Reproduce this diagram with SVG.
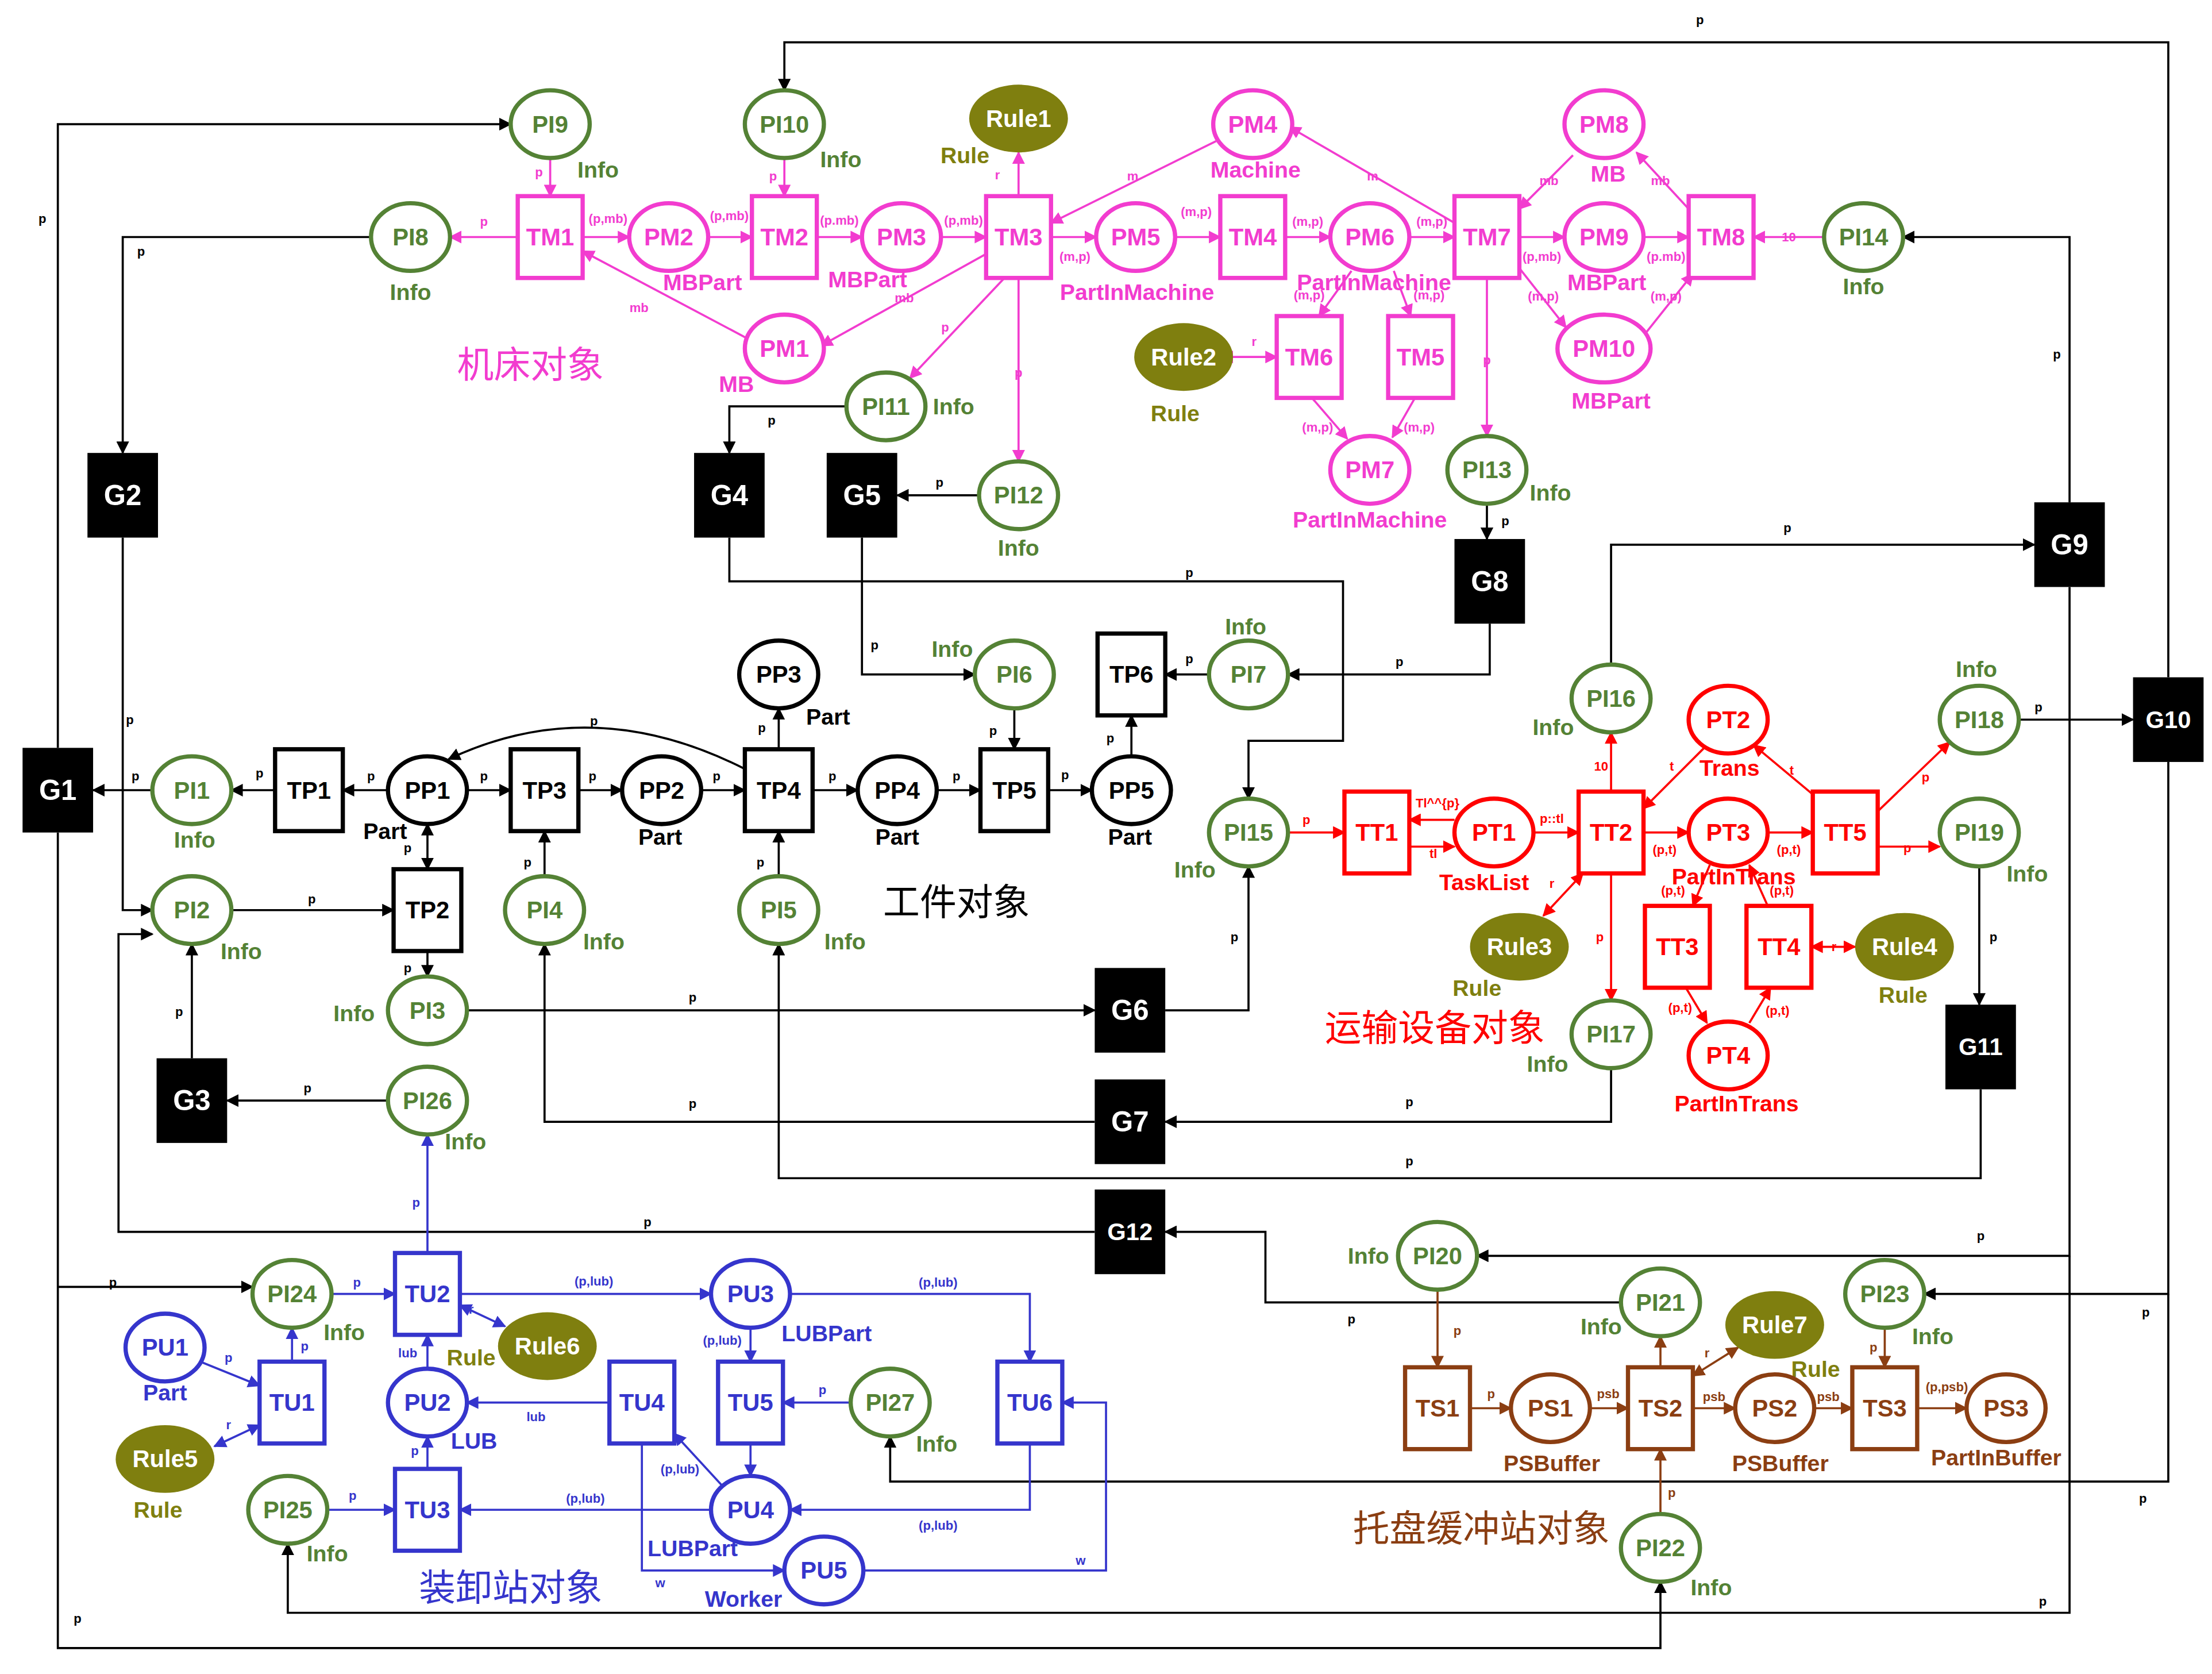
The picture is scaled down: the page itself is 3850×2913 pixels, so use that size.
<svg xmlns="http://www.w3.org/2000/svg" width="3850" height="2913" viewBox="0 0 3850 2913">
<style>
text{font-family:"Liberation Sans",Arial,sans-serif;font-weight:bold;text-anchor:middle;dominant-baseline:central}
.n{font-size:17px}.s{font-size:16px}.e{font-size:9px}.cn{font-size:26px;font-family:"Noto Sans CJK SC",sans-serif;font-weight:normal}
.gi ellipse{fill:#fff;stroke:#548235;stroke-width:3}.gi text,.tg{fill:#548235}
.mg rect,.mg ellipse{fill:#fff;stroke:#f23ccf;stroke-width:3}.mg text,.tm{fill:#f23ccf}
.rd rect,.rd ellipse{fill:#fff;stroke:#f00;stroke-width:3}.rd text,.tr{fill:#f00}
.bl rect,.bl ellipse{fill:#fff;stroke:#3535cc;stroke-width:3}.bl text,.tb{fill:#3535cc}
.br rect,.br ellipse{fill:#fff;stroke:#8b3e12;stroke-width:3}.br text,.tbr{fill:#8b3e12}
.bk rect,.bk ellipse{fill:#fff;stroke:#000;stroke-width:3}.bk text{fill:#000}
.gb rect{fill:#000}.gb text{fill:#fff;font-size:20px}
.ru ellipse{fill:#7f7f0f}.ru text{fill:#fff}.to{fill:#7f7f0f}
#edges path{fill:none;stroke-width:1.5}
.ck{stroke:#000;marker-end:url(#ak)}.cm{stroke:#f23ccf;marker-end:url(#am)}.cr{stroke:#f00;marker-end:url(#ar)}.cb{stroke:#3535cc;marker-end:url(#ab)}.cbr{stroke:#8b3e12;marker-end:url(#abr)}
.bi{}
</style>
<defs>
<marker id="ak" viewBox="0 0 10 10" refX="9" refY="5" markerWidth="6" markerHeight="6" orient="auto-start-reverse"><path d="M0,0L10,5L0,10z" fill="#000"/></marker>
<marker id="am" viewBox="0 0 10 10" refX="9" refY="5" markerWidth="6" markerHeight="6" orient="auto-start-reverse"><path d="M0,0L10,5L0,10z" fill="#f23ccf"/></marker>
<marker id="ar" viewBox="0 0 10 10" refX="9" refY="5" markerWidth="6" markerHeight="6" orient="auto-start-reverse"><path d="M0,0L10,5L0,10z" fill="#f00"/></marker>
<marker id="ab" viewBox="0 0 10 10" refX="9" refY="5" markerWidth="6" markerHeight="6" orient="auto-start-reverse"><path d="M0,0L10,5L0,10z" fill="#3535cc"/></marker>
<marker id="abr" viewBox="0 0 10 10" refX="9" refY="5" markerWidth="6" markerHeight="6" orient="auto-start-reverse"><path d="M0,0L10,5L0,10z" fill="#8b3e12"/></marker>
</defs>
<rect width="3850" height="2913" fill="#fff"/>
<g transform="scale(2.4554)">
<g id="edges">
<!-- magenta -->
<path class="cm" d="M390,112V139"/><path class="cm" d="M556,112V139"/>
<path class="cm" d="M367,168H319"/><path class="cm" d="M413,168H446"/><path class="cm" d="M502,168H533"/>
<path class="cm" d="M579,168H611"/><path class="cm" d="M667,168H699"/><path class="cm" d="M722,139V108"/>
<path class="cm" d="M745,168H777"/><path class="cm" d="M833,168H865"/><path class="cm" d="M911,168H943"/><path class="cm" d="M999,168H1031"/>
<path class="cm" d="M862,100L745,158"/><path class="cm" d="M1031,158L914,90"/>
<path class="cm" d="M530,240L413,178"/><path class="cm" d="M699,180L582,245"/>
<path class="cm" d="M712,197L645,268"/><path class="cm" d="M722,197V327"/>
<path class="cm" d="M1077,168H1109"/><path class="cm" d="M1165,168H1197"/><path class="cm" d="M1293,168H1243"/>
<path class="cm" d="M1115,110L1077,148"/><path class="cm" d="M1197,148L1160,108"/>
<path class="cm" d="M1077,190L1110,232"/><path class="cm" d="M1165,238L1200,194"/>
<path class="cm" d="M1054,197V309"/>
<path class="cm" d="M958,192L935,224"/><path class="cm" d="M988,192L1000,224"/>
<path class="cm" d="M930,282L955,311"/><path class="cm" d="M1003,282L987,310"/>
<path class="cm" style="marker-start:url(#am)" d="M905,253H866"/>
<!-- black -->
<path class="ck" d="M263,168H87V321"/><path class="ck" d="M87,381V645H108"/>
<path class="ck" d="M600,288H517V321"/><path class="ck" d="M694,351H636"/>
<path class="ck" d="M517,381V412H952V525H885V566"/><path class="ck" d="M611,381V478H691"/>
<path class="ck" d="M719,502V531"/><path class="ck" d="M743,560H774"/><path class="ck" d="M802,536V507"/>
<path class="ck" d="M857,478H826"/><path class="ck" d="M1056,442V478H913"/><path class="ck" d="M1054,357V382"/>
<path class="ck" d="M195,560H164"/><path class="ck" d="M108,560H66"/><path class="ck" d="M275,560H243"/>
<path class="ck" d="M331,560H362"/><path class="ck" d="M410,560H441"/><path class="ck" d="M497,560H528"/>
<path class="ck" d="M576,560H608"/><path class="ck" d="M664,560H695"/><path class="ck" d="M552,531V502"/>
<path class="ck" d="M528,545Q420,490 318,538"/><path class="ck" style="marker-start:url(#ak)" d="M303,584V616"/>
<path class="ck" d="M303,674V692"/><path class="ck" d="M164,645H279"/><path class="ck" d="M386,621V589"/><path class="ck" d="M552,621V589"/>
<path class="ck" d="M331,716H776"/><path class="ck" d="M826,716H885V614"/>
<path class="ck" d="M1142,757V795H826"/><path class="ck" d="M776,795H386V669"/>
<path class="ck" d="M1404,772V835H552V669"/><path class="ck" d="M1403,614V712"/>
<path class="ck" d="M1142,471V386H1442"/><path class="ck" d="M136,750V669"/><path class="ck" d="M275,780H161"/>
<path class="ck" d="M1467,356V168H1349"/><path class="ck" d="M1467,416V890H1047"/>
<path class="ck" d="M1431,510H1512"/><path class="ck" d="M1537,480V30H556V64"/>
<path class="ck" d="M1537,540V917H1364"/><path class="ck" d="M41,530V88H362"/>
<path class="ck" d="M41,590V1168H1177V1121"/><path class="ck" d="M41,912H179"/>
<path class="ck" d="M1537,917V1050H631V1018"/><path class="ck" d="M1467,890V1143H204V1094"/>
<path class="ck" d="M1149,923H897V873H826"/><path class="ck" d="M776,873H84V662H108"/>
<!-- red -->
<path class="cr" d="M913,590H953"/><path class="cr" d="M1031,581H999"/><path class="cr" d="M999,600H1031"/>
<path class="cr" d="M1087,590H1119"/><path class="cr" d="M1165,590H1197"/><path class="cr" d="M1253,590H1285"/>
<path class="cr" d="M1331,600H1375"/><path class="cr" d="M1331,575L1382,526"/>
<path class="cr" d="M1208,530L1165,573"/><path class="cr" d="M1285,563L1243,528"/>
<path class="cr" d="M1142,561V519"/><path class="cr" d="M1142,619V709"/>
<path class="cr" style="marker-start:url(#ar)" d="M1122,619L1094,649"/>
<path class="cr" d="M1212,613L1200,642"/><path class="cr" d="M1253,642L1240,613"/>
<path class="cr" d="M1195,700L1210,725"/><path class="cr" d="M1240,725L1255,700"/>
<path class="cr" style="marker-start:url(#ar)" d="M1284,671H1315"/>
<!-- blue -->
<path class="cb" d="M303,888V804"/><path class="cb" d="M235,917H280"/><path class="cb" d="M207,965V941"/>
<path class="cb" d="M142,965L184,982"/><path class="cb" style="marker-start:url(#ab)" d="M152,1025L184,1010"/>
<path class="cb" d="M326,917H504"/><path class="cb" d="M560,917H730V965"/><path class="cb" d="M532,941V965"/>
<path class="cb" style="marker-start:url(#ab)" d="M326,925L358,940"/><path class="cb" d="M303,970V946"/>
<path class="cb" d="M432,994H331"/><path class="cb" d="M532,1023V1046"/><path class="cb" d="M603,994H555"/>
<path class="cb" d="M512,1053L478,1016"/><path class="cb" d="M730,1023V1070H560"/><path class="cb" d="M504,1070H326"/>
<path class="cb" d="M303,1041V1018"/><path class="cb" d="M232,1070H280"/>
<path class="cb" d="M612,1113H784V994H753"/><path class="cb" d="M455,1023V1113H556"/>
<!-- brown -->
<path class="cbr" d="M1019,914V969"/><path class="cbr" d="M1042,998H1071"/><path class="cbr" d="M1127,998H1154"/>
<path class="cbr" d="M1200,998H1230"/><path class="cbr" d="M1286,998H1313"/><path class="cbr" d="M1359,998H1394"/>
<path class="cbr" d="M1336,941V969"/><path class="cbr" d="M1177,969V947"/>
<path class="cbr" style="marker-start:url(#abr)" d="M1200,975L1232,955"/><path class="cbr" d="M1177,1073V1027"/>
</g>
<g id="edge-labels" class="e">
<g class="tm"><text x="382" y="122">p</text><text x="548" y="125">p</text><text x="343" y="157">p</text><text x="431" y="155">(p,mb)</text><text x="517" y="153">(p,mb)</text><text x="595" y="156">(p.mb)</text><text x="683" y="156">(p,mb)</text><text x="707" y="124">r</text><text x="762" y="182">(m,p)</text><text x="848" y="150">(m,p)</text><text x="927" y="157">(m,p)</text><text x="1015" y="157">(m,p)</text><text x="803" y="125">m</text><text x="973" y="125">m</text><text x="453" y="218">mb</text><text x="641" y="211">mb</text><text x="670" y="232">p</text><text x="722" y="264">p</text><text x="1093" y="182">(p,mb)</text><text x="1181" y="182">(p.mb)</text><text x="1268" y="168">10</text><text x="1098" y="128">mb</text><text x="1177" y="128">mb</text><text x="1094" y="210">(m,p)</text><text x="1181" y="210">(m,p)</text><text x="1054" y="255">p</text><text x="928" y="209">(m,p)</text><text x="1013" y="209">(m,p)</text><text x="934" y="303">(m,p)</text><text x="1006" y="303">(m,p)</text><text x="889" y="242">r</text></g>
<g fill="#000"><text x="100" y="178">p</text><text x="92" y="510">p</text><text x="547" y="298">p</text><text x="666" y="342">p</text><text x="843" y="406">p</text><text x="620" y="457">p</text><text x="704" y="518">p</text><text x="755" y="549">p</text><text x="787" y="523">p</text><text x="843" y="467">p</text><text x="992" y="469">p</text><text x="1067" y="369">p</text><text x="184" y="548">p</text><text x="96" y="550">p</text><text x="263" y="550">p</text><text x="343" y="550">p</text><text x="420" y="550">p</text><text x="508" y="550">p</text><text x="590" y="550">p</text><text x="678" y="550">p</text><text x="540" y="516">p</text><text x="421" y="511">p</text><text x="289" y="601">p</text><text x="289" y="686">p</text><text x="221" y="637">p</text><text x="374" y="611">p</text><text x="539" y="611">p</text><text x="491" y="707">p</text><text x="875" y="664">p</text><text x="999" y="781">p</text><text x="491" y="782">p</text><text x="999" y="823">p</text><text x="1413" y="664">p</text><text x="1267" y="374">p</text><text x="127" y="717">p</text><text x="218" y="771">p</text><text x="1458" y="251">p</text><text x="1404" y="876">p</text><text x="1445" y="501">p</text><text x="1205" y="14">p</text><text x="1521" y="930">p</text><text x="30" y="155">p</text><text x="55" y="1147">p</text><text x="80" y="909">p</text><text x="1519" y="1062">p</text><text x="1448" y="1135">p</text><text x="958" y="935">p</text><text x="459" y="866">p</text></g>
<g class="tr"><text x="926" y="581">p</text><text x="1019" y="569">Tl^^{p}</text><text x="1016" y="605">tl</text><text x="1100" y="580">p::tl</text><text x="1180" y="602">(p,t)</text><text x="1268" y="602">(p,t)</text><text x="1352" y="601">p</text><text x="1365" y="551">p</text><text x="1185" y="543">t</text><text x="1270" y="546">t</text><text x="1135" y="543">10</text><text x="1134" y="664">p</text><text x="1100" y="626">r</text><text x="1186" y="631">(p,t)</text><text x="1263" y="631">(p,t)</text><text x="1191" y="714">(p,t)</text><text x="1260" y="716">(p,t)</text><text x="1300" y="671">r</text></g>
<g class="tb"><text x="295" y="852">p</text><text x="253" y="909">p</text><text x="216" y="954">p</text><text x="162" y="962">p</text><text x="162" y="1010">r</text><text x="421" y="908">(p,lub)</text><text x="665" y="909">(p,lub)</text><text x="512" y="950">(p,lub)</text><text x="334" y="928">r</text><text x="289" y="959">lub</text><text x="380" y="1004">lub</text><text x="583" y="985">p</text><text x="482" y="1041">(p,lub)</text><text x="665" y="1081">(p,lub)</text><text x="415" y="1062">(p,lub)</text><text x="294" y="1028">p</text><text x="250" y="1060">p</text><text x="766" y="1106">w</text><text x="468" y="1122">w</text></g>
<g class="tbr"><text x="1033" y="943">p</text><text x="1057" y="988">p</text><text x="1140" y="988">psb</text><text x="1215" y="990">psb</text><text x="1296" y="990">psb</text><text x="1380" y="983">(p,psb)</text><text x="1328" y="955">p</text><text x="1210" y="959">r</text><text x="1185" y="1058">p</text></g>
</g>
<!-- green info places -->
<g class="gi n">
<g id="PI1"><ellipse cx="136" cy="560" rx="28" ry="24"/><text x="136" y="560">PI1</text></g>
<g id="PI2"><ellipse cx="136" cy="645" rx="28" ry="24"/><text x="136" y="645">PI2</text></g>
<g id="PI3"><ellipse cx="303" cy="716" rx="28" ry="24"/><text x="303" y="716">PI3</text></g>
<g id="PI4"><ellipse cx="386" cy="645" rx="28" ry="24"/><text x="386" y="645">PI4</text></g>
<g id="PI5"><ellipse cx="552" cy="645" rx="28" ry="24"/><text x="552" y="645">PI5</text></g>
<g id="PI6"><ellipse cx="719" cy="478" rx="28" ry="24"/><text x="719" y="478">PI6</text></g>
<g id="PI7"><ellipse cx="885" cy="478" rx="28" ry="24"/><text x="885" y="478">PI7</text></g>
<g id="PI8"><ellipse cx="291" cy="168" rx="28" ry="24"/><text x="291" y="168">PI8</text></g>
<g id="PI9"><ellipse cx="390" cy="88" rx="28" ry="24"/><text x="390" y="88">PI9</text></g>
<g id="PI10"><ellipse cx="556" cy="88" rx="28" ry="24"/><text x="556" y="88">PI10</text></g>
<g id="PI11"><ellipse cx="628" cy="288" rx="28" ry="24"/><text x="628" y="288">PI11</text></g>
<g id="PI12"><ellipse cx="722" cy="351" rx="28" ry="24"/><text x="722" y="351">PI12</text></g>
<g id="PI13"><ellipse cx="1054" cy="333" rx="28" ry="24"/><text x="1054" y="333">PI13</text></g>
<g id="PI14"><ellipse cx="1321" cy="168" rx="28" ry="24"/><text x="1321" y="168">PI14</text></g>
<g id="PI15"><ellipse cx="885" cy="590" rx="28" ry="24"/><text x="885" y="590">PI15</text></g>
<g id="PI16"><ellipse cx="1142" cy="495" rx="28" ry="24"/><text x="1142" y="495">PI16</text></g>
<g id="PI17"><ellipse cx="1142" cy="733" rx="28" ry="24"/><text x="1142" y="733">PI17</text></g>
<g id="PI18"><ellipse cx="1403" cy="510" rx="28" ry="24"/><text x="1403" y="510">PI18</text></g>
<g id="PI19"><ellipse cx="1403" cy="590" rx="28" ry="24"/><text x="1403" y="590">PI19</text></g>
<g id="PI20"><ellipse cx="1019" cy="890" rx="28" ry="24"/><text x="1019" y="890">PI20</text></g>
<g id="PI21"><ellipse cx="1177" cy="923" rx="28" ry="24"/><text x="1177" y="923">PI21</text></g>
<g id="PI22"><ellipse cx="1177" cy="1097" rx="28" ry="24"/><text x="1177" y="1097">PI22</text></g>
<g id="PI23"><ellipse cx="1336" cy="917" rx="28" ry="24"/><text x="1336" y="917">PI23</text></g>
<g id="PI24"><ellipse cx="207" cy="917" rx="28" ry="24"/><text x="207" y="917">PI24</text></g>
<g id="PI25"><ellipse cx="204" cy="1070" rx="28" ry="24"/><text x="204" y="1070">PI25</text></g>
<g id="PI26"><ellipse cx="303" cy="780" rx="28" ry="24"/><text x="303" y="780">PI26</text></g>
<g id="PI27"><ellipse cx="631" cy="994" rx="28" ry="24"/><text x="631" y="994">PI27</text></g>
</g>
<g class="s tg">
<text x="138" y="595">Info</text><text x="171" y="674">Info</text><text x="251" y="718">Info</text><text x="428" y="667">Info</text><text x="599" y="667">Info</text><text x="675" y="460">Info</text><text x="883" y="444">Info</text><text x="291" y="207">Info</text><text x="424" y="120">Info</text><text x="596" y="113">Info</text><text x="676" y="288">Info</text><text x="722" y="388">Info</text><text x="1099" y="349">Info</text><text x="1321" y="203">Info</text><text x="847" y="616">Info</text><text x="1101" y="515">Info</text><text x="1097" y="754">Info</text><text x="1401" y="474">Info</text><text x="1437" y="619">Info</text><text x="970" y="890">Info</text><text x="1135" y="940">Info</text><text x="1213" y="1125">Info</text><text x="1370" y="947">Info</text><text x="244" y="944">Info</text><text x="232" y="1101">Info</text><text x="330" y="809">Info</text><text x="664" y="1023">Info</text>
</g>
<!-- rules -->
<g class="ru n">
<g id="Rule1"><ellipse cx="722" cy="84" rx="35" ry="24"/><text x="722" y="84">Rule1</text></g>
<g id="Rule2"><ellipse cx="839" cy="253" rx="35" ry="24"/><text x="839" y="253">Rule2</text></g>
<g id="Rule3"><ellipse cx="1077" cy="671" rx="35" ry="24"/><text x="1077" y="671">Rule3</text></g>
<g id="Rule4"><ellipse cx="1350" cy="671" rx="35" ry="24"/><text x="1350" y="671">Rule4</text></g>
<g id="Rule5"><ellipse cx="117" cy="1034" rx="35" ry="24"/><text x="117" y="1034">Rule5</text></g>
<g id="Rule6"><ellipse cx="388" cy="954" rx="35" ry="24"/><text x="388" y="954">Rule6</text></g>
<g id="Rule7"><ellipse cx="1258" cy="939" rx="35" ry="24"/><text x="1258" y="939">Rule7</text></g>
</g>
<g class="s to"><text x="684" y="110">Rule</text><text x="833" y="293">Rule</text><text x="1047" y="700">Rule</text><text x="1349" y="705">Rule</text><text x="112" y="1070">Rule</text><text x="334" y="962">Rule</text><text x="1287" y="970">Rule</text></g>
<!-- magenta nodes -->
<g class="mg n">
<g id="TM1"><rect x="367" y="139" width="46" height="58"/><text x="390" y="168">TM1</text></g>
<g id="TM2"><rect x="533" y="139" width="46" height="58"/><text x="556" y="168">TM2</text></g>
<g id="TM3"><rect x="699" y="139" width="46" height="58"/><text x="722" y="168">TM3</text></g>
<g id="TM4"><rect x="865" y="139" width="46" height="58"/><text x="888" y="168">TM4</text></g>
<g id="TM7"><rect x="1031" y="139" width="46" height="58"/><text x="1054" y="168">TM7</text></g>
<g id="TM8"><rect x="1197" y="139" width="46" height="58"/><text x="1220" y="168">TM8</text></g>
<g id="TM6"><rect x="905" y="224" width="46" height="58"/><text x="928" y="253">TM6</text></g>
<g id="TM5"><rect x="984" y="224" width="46" height="58"/><text x="1007" y="253">TM5</text></g>
<g id="PM1"><ellipse cx="556" cy="247" rx="28" ry="24"/><text x="556" y="247">PM1</text></g>
<g id="PM2"><ellipse cx="474" cy="168" rx="28" ry="24"/><text x="474" y="168">PM2</text></g>
<g id="PM3"><ellipse cx="639" cy="168" rx="28" ry="24"/><text x="639" y="168">PM3</text></g>
<g id="PM4"><ellipse cx="888" cy="88" rx="28" ry="24"/><text x="888" y="88">PM4</text></g>
<g id="PM5"><ellipse cx="805" cy="168" rx="28" ry="24"/><text x="805" y="168">PM5</text></g>
<g id="PM6"><ellipse cx="971" cy="168" rx="28" ry="24"/><text x="971" y="168">PM6</text></g>
<g id="PM7"><ellipse cx="971" cy="333" rx="28" ry="24"/><text x="971" y="333">PM7</text></g>
<g id="PM8"><ellipse cx="1137" cy="88" rx="28" ry="24"/><text x="1137" y="88">PM8</text></g>
<g id="PM9"><ellipse cx="1137" cy="168" rx="28" ry="24"/><text x="1137" y="168">PM9</text></g>
<g id="PM10"><ellipse cx="1137" cy="247" rx="33" ry="24"/><text x="1137" y="247">PM10</text></g>
</g>
<g class="s tm"><text x="890" y="120">Machine</text><text x="1140" y="123">MB</text><text x="522" y="272">MB</text><text x="498" y="200">MBPart</text><text x="615" y="198">MBPart</text><text x="806" y="207">PartInMachine</text><text x="974" y="200">PartInMachine</text><text x="1139" y="200">MBPart</text><text x="1142" y="284">MBPart</text><text x="971" y="368">PartInMachine</text><text class="cn" x="376" y="256">机床对象</text></g>
<!-- black part nodes -->
<g class="bk n">
<g id="TP1"><rect x="195" y="531" width="48" height="58"/><text x="219" y="560">TP1</text></g>
<g id="TP2"><rect x="279" y="616" width="48" height="58"/><text x="303" y="645">TP2</text></g>
<g id="TP3"><rect x="362" y="531" width="48" height="58"/><text x="386" y="560">TP3</text></g>
<g id="TP4"><rect x="528" y="531" width="48" height="58"/><text x="552" y="560">TP4</text></g>
<g id="TP5"><rect x="695" y="531" width="48" height="58"/><text x="719" y="560">TP5</text></g>
<g id="TP6"><rect x="778" y="449" width="48" height="58"/><text x="802" y="478">TP6</text></g>
<g id="PP1"><ellipse cx="303" cy="560" rx="28" ry="24"/><text x="303" y="560">PP1</text></g>
<g id="PP2"><ellipse cx="469" cy="560" rx="28" ry="24"/><text x="469" y="560">PP2</text></g>
<g id="PP3"><ellipse cx="552" cy="478" rx="28" ry="24"/><text x="552" y="478">PP3</text></g>
<g id="PP4"><ellipse cx="636" cy="560" rx="28" ry="24"/><text x="636" y="560">PP4</text></g>
<g id="PP5"><ellipse cx="802" cy="560" rx="28" ry="24"/><text x="802" y="560">PP5</text></g>
</g>
<g class="s" fill="#000"><text x="273" y="589">Part</text><text x="468" y="593">Part</text><text x="587" y="508">Part</text><text x="636" y="593">Part</text><text x="801" y="593">Part</text><text class="cn" x="678" y="637">工件对象</text></g>
<!-- G boxes -->
<g class="gb">
<g id="G1"><rect x="16" y="530" width="50" height="60"/><text x="41" y="560">G1</text></g>
<g id="G2"><rect x="62" y="321" width="50" height="60"/><text x="87" y="351">G2</text></g>
<g id="G3"><rect x="111" y="750" width="50" height="60"/><text x="136" y="780">G3</text></g>
<g id="G4"><rect x="492" y="321" width="50" height="60"/><text x="517" y="351">G4</text></g>
<g id="G5"><rect x="586" y="321" width="50" height="60"/><text x="611" y="351">G5</text></g>
<g id="G6"><rect x="776" y="686" width="50" height="60"/><text x="801" y="716">G6</text></g>
<g id="G7"><rect x="776" y="765" width="50" height="60"/><text x="801" y="795">G7</text></g>
<g id="G8"><rect x="1031" y="382" width="50" height="60"/><text x="1056" y="412">G8</text></g>
<g id="G9"><rect x="1442" y="356" width="50" height="60"/><text x="1467" y="386">G9</text></g>
<g id="G10"><rect x="1512" y="480" width="50" height="60"/><text x="1537" y="510" style="font-size:17px">G10</text></g>
<g id="G11"><rect x="1379" y="712" width="50" height="60"/><text x="1404" y="742" style="font-size:17px">G11</text></g>
<g id="G12"><rect x="776" y="843" width="50" height="60"/><text x="801" y="873" style="font-size:17px">G12</text></g>
</g>
<!-- red -->
<g class="rd n">
<g id="TT1"><rect x="953" y="561" width="46" height="58"/><text x="976" y="590">TT1</text></g>
<g id="TT2"><rect x="1119" y="561" width="46" height="58"/><text x="1142" y="590">TT2</text></g>
<g id="TT5"><rect x="1285" y="561" width="46" height="58"/><text x="1308" y="590">TT5</text></g>
<g id="TT3"><rect x="1166" y="642" width="46" height="58"/><text x="1189" y="671">TT3</text></g>
<g id="TT4"><rect x="1238" y="642" width="46" height="58"/><text x="1261" y="671">TT4</text></g>
<g id="PT1"><ellipse cx="1059" cy="590" rx="28" ry="24"/><text x="1059" y="590">PT1</text></g>
<g id="PT2"><ellipse cx="1225" cy="510" rx="28" ry="24"/><text x="1225" y="510">PT2</text></g>
<g id="PT3"><ellipse cx="1225" cy="590" rx="28" ry="24"/><text x="1225" y="590">PT3</text></g>
<g id="PT4"><ellipse cx="1225" cy="748" rx="28" ry="24"/><text x="1225" y="748">PT4</text></g>
</g>
<g class="s tr"><text x="1052" y="625">TaskList</text><text x="1226" y="544">Trans</text><text x="1229" y="621">PartInTrans</text><text x="1231" y="782">PartInTrans</text><text class="cn" x="1017" y="726">运输设备对象</text></g>
<!-- blue -->
<g class="bl n">
<g id="TU1"><rect x="184" y="965" width="46" height="58"/><text x="207" y="994">TU1</text></g>
<g id="TU2"><rect x="280" y="888" width="46" height="58"/><text x="303" y="917">TU2</text></g>
<g id="TU3"><rect x="280" y="1041" width="46" height="58"/><text x="303" y="1070">TU3</text></g>
<g id="TU4"><rect x="432" y="965" width="46" height="58"/><text x="455" y="994">TU4</text></g>
<g id="TU5"><rect x="509" y="965" width="46" height="58"/><text x="532" y="994">TU5</text></g>
<g id="TU6"><rect x="707" y="965" width="46" height="58"/><text x="730" y="994">TU6</text></g>
<g id="PU1"><ellipse cx="117" cy="955" rx="28" ry="24"/><text x="117" y="955">PU1</text></g>
<g id="PU2"><ellipse cx="303" cy="994" rx="28" ry="24"/><text x="303" y="994">PU2</text></g>
<g id="PU3"><ellipse cx="532" cy="917" rx="28" ry="24"/><text x="532" y="917">PU3</text></g>
<g id="PU4"><ellipse cx="532" cy="1070" rx="28" ry="24"/><text x="532" y="1070">PU4</text></g>
<g id="PU5"><ellipse cx="584" cy="1113" rx="28" ry="24"/><text x="584" y="1113">PU5</text></g>
</g>
<g class="s tb"><text x="117" y="987">Part</text><text x="586" y="945">LUBPart</text><text x="336" y="1021">LUB</text><text x="491" y="1097">LUBPart</text><text x="527" y="1133">Worker</text><text class="cn" x="362" y="1123">装卸站对象</text></g>
<!-- brown -->
<g class="br n">
<g id="TS1"><rect x="996" y="969" width="46" height="58"/><text x="1019" y="998">TS1</text></g>
<g id="TS2"><rect x="1154" y="969" width="46" height="58"/><text x="1177" y="998">TS2</text></g>
<g id="TS3"><rect x="1313" y="969" width="46" height="58"/><text x="1336" y="998">TS3</text></g>
<g id="PS1"><ellipse cx="1099" cy="998" rx="28" ry="24"/><text x="1099" y="998">PS1</text></g>
<g id="PS2"><ellipse cx="1258" cy="998" rx="28" ry="24"/><text x="1258" y="998">PS2</text></g>
<g id="PS3"><ellipse cx="1422" cy="998" rx="28" ry="24"/><text x="1422" y="998">PS3</text></g>
</g>
<g class="s tbr"><text x="1100" y="1037">PSBuffer</text><text x="1262" y="1037">PSBuffer</text><text x="1415" y="1033">PartInBuffer</text><text class="cn" x="1050" y="1081">托盘缓冲站对象</text></g>
</g>
</svg>
